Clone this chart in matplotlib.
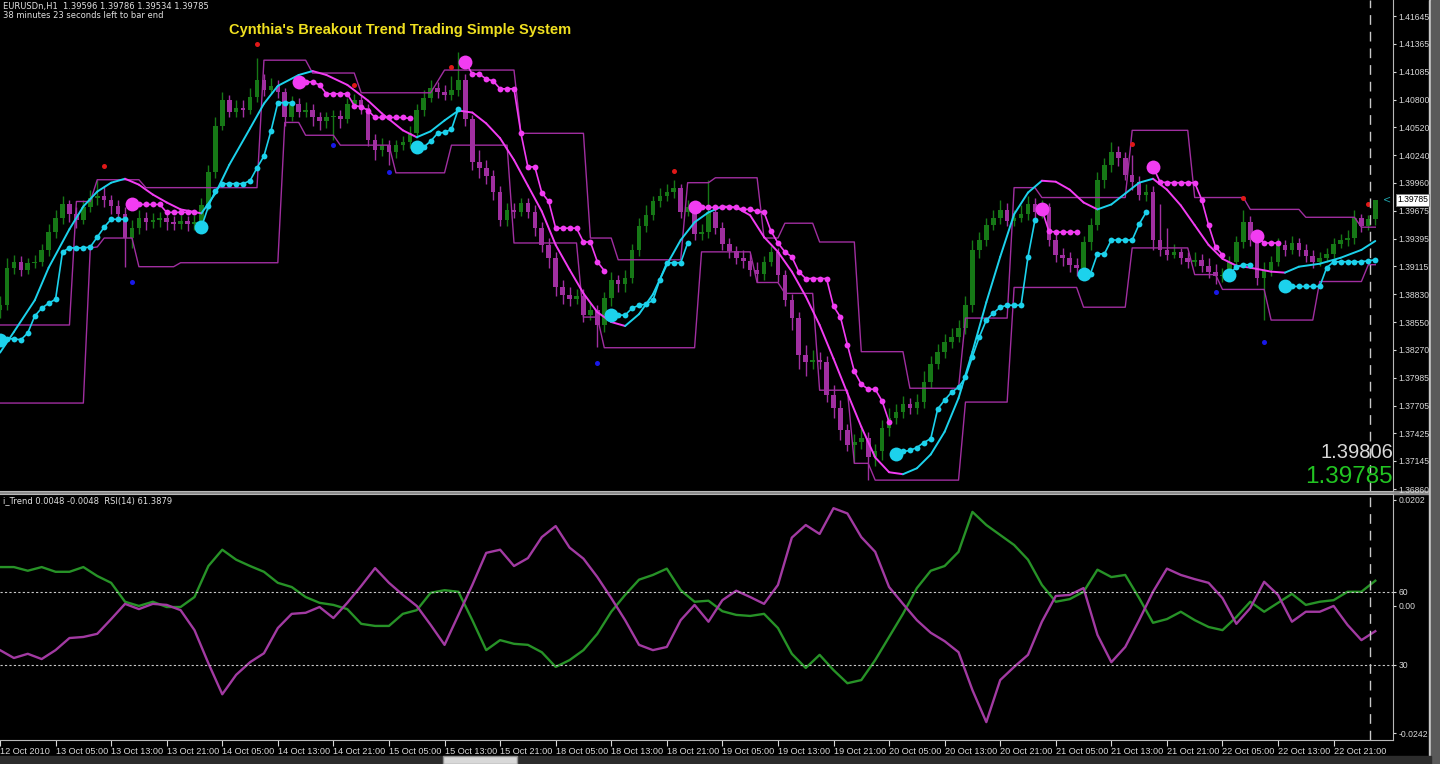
import numpy as np
import matplotlib.pyplot as plt
from matplotlib.patches import Rectangle
from matplotlib.transforms import blended_transform_factory

plt.rcParams['font.family'] = ['DejaVu Sans']

# ---- price data, EURUSD H1 (one entry per bar) ----
first_open = 1.3867
closes = [1.3872, 1.3910, 1.3916, 1.3908, 1.3915, 1.3916, 1.3928, 1.3946, 1.3960, 1.3974,
          1.3964, 1.3958, 1.3971, 1.3981, 1.3983, 1.3979, 1.3972, 1.3964, 1.3940, 1.3950,
          1.3960, 1.3956, 1.3958, 1.3960, 1.3956, 1.3954, 1.3957, 1.3954, 1.3956, 1.3973,
          1.4007, 1.4053, 1.4080, 1.4068, 1.4072, 1.4070, 1.4083, 1.4100, 1.4090, 1.4094,
          1.4088, 1.4062, 1.4076, 1.4068, 1.4070, 1.4062, 1.4058, 1.4062, 1.4064, 1.4060,
          1.4076, 1.4080, 1.4072, 1.4039, 1.4029, 1.4034, 1.4027, 1.4034, 1.4037, 1.4046,
          1.4070, 1.4082, 1.4092, 1.4088, 1.4085, 1.4090, 1.4100, 1.4060, 1.4017, 1.4011,
          1.4003, 1.3987, 1.3958, 1.3968, 1.3966, 1.3975, 1.3966, 1.3950, 1.3933, 1.3920,
          1.3890, 1.3882, 1.3878, 1.3881, 1.3862, 1.3867, 1.3852, 1.3879, 1.3898, 1.3893,
          1.3900, 1.3928, 1.3952, 1.3963, 1.3977, 1.3983, 1.3987, 1.3991, 1.3966, 1.3971,
          1.3944, 1.3946, 1.3966, 1.3950, 1.3934, 1.3927, 1.3920, 1.3917, 1.3908, 1.3904,
          1.3916, 1.3926, 1.3903, 1.3877, 1.3859, 1.3822, 1.3815, 1.3817, 1.3815, 1.3781,
          1.3768, 1.3746, 1.3731, 1.3734, 1.3738, 1.3718, 1.3724, 1.3748, 1.3758, 1.3764,
          1.3772, 1.3768, 1.3774, 1.3794, 1.3813, 1.3825, 1.3835, 1.3840, 1.3849, 1.3872,
          1.3928, 1.3938, 1.3953, 1.3960, 1.3968, 1.3957, 1.3960, 1.3964, 1.3974, 1.3966,
          1.3971, 1.3938, 1.3923, 1.3920, 1.3913, 1.3910, 1.3936, 1.3953, 1.3999, 1.4014,
          1.4027, 1.4021, 1.4004, 1.3997, 1.3984, 1.3987, 1.3938, 1.3928, 1.3923, 1.3926,
          1.3920, 1.3916, 1.3918, 1.3912, 1.3906, 1.3902, 1.3903, 1.3916, 1.3936, 1.3956,
          1.3938, 1.3900, 1.3908, 1.3916, 1.3933, 1.3928, 1.3935, 1.3928, 1.3922, 1.3916,
          1.3920, 1.3924, 1.3934, 1.3938, 1.3940, 1.3960, 1.3952, 1.39596, 1.39785]
highs = [1.3881, 1.3920, 1.3923, 1.3922, 1.3920, 1.3923, 1.3934, 1.3954, 1.3968, 1.3983,
         1.3979, 1.3971, 1.3979, 1.3989, 1.3999, 1.3993, 1.3984, 1.3979, 1.3971, 1.3958,
         1.3968, 1.3966, 1.3965, 1.3966, 1.3964, 1.3962, 1.3963, 1.3962, 1.3963, 1.3981,
         1.4014, 1.4062, 1.4088, 1.4085, 1.4080, 1.4080, 1.4092, 1.4122, 1.4106, 1.4102,
         1.4100, 1.4092, 1.4084, 1.4082, 1.4078, 1.4076, 1.4068, 1.4068, 1.4070, 1.4070,
         1.4082, 1.4086, 1.4084, 1.4076, 1.4045, 1.4041, 1.4039, 1.4039, 1.4043, 1.4053,
         1.4076, 1.4090, 1.4100, 1.4098, 1.4095, 1.4104, 1.4128, 1.4106, 1.4065, 1.4029,
         1.4019, 1.4009, 1.3993, 1.3975, 1.3975, 1.3981, 1.3981, 1.3973, 1.3956, 1.3940,
         1.3926, 1.3898, 1.3890, 1.3888, 1.3888, 1.3875, 1.3872, 1.3885, 1.3906, 1.3903,
         1.3908, 1.3934, 1.3960, 1.3973, 1.3983, 1.3991, 1.3995, 1.3999, 1.3995, 1.3979,
         1.3975, 1.3954, 1.3999, 1.3973, 1.3956, 1.3940, 1.3932, 1.3928, 1.3924, 1.3916,
         1.3922, 1.3932, 1.3930, 1.3908, 1.3883, 1.3865, 1.3832, 1.3827, 1.3825, 1.3821,
         1.3791, 1.3776, 1.3752, 1.3742, 1.3748, 1.3744, 1.3732, 1.3756, 1.3768, 1.3772,
         1.3780, 1.3778, 1.3782, 1.3805, 1.3821, 1.3833, 1.3843, 1.3849, 1.3857, 1.3881,
         1.3938, 1.3946, 1.3960, 1.3968, 1.3979, 1.3975, 1.3968, 1.3973, 1.3983, 1.3981,
         1.3979, 1.3975, 1.3944, 1.3930, 1.3926, 1.3920, 1.3942, 1.3960, 1.4007, 1.4021,
         1.4037, 1.4033, 1.4027, 1.4024, 1.4003, 1.3995, 1.3993, 1.3974, 1.3950, 1.3934,
         1.3930, 1.3926, 1.3926, 1.3924, 1.3920, 1.3914, 1.3910, 1.3922, 1.3942, 1.3968,
         1.3962, 1.3944, 1.3916, 1.3922, 1.3940, 1.3938, 1.3942, 1.3940, 1.3934, 1.3928,
         1.3926, 1.3930, 1.3940, 1.3944, 1.3948, 1.3968, 1.3964, 1.3963, 1.39786]
lows = [1.3859, 1.3867, 1.3904, 1.3902, 1.3904, 1.3910, 1.3912, 1.3922, 1.3940, 1.3954,
        1.3956, 1.3950, 1.3954, 1.3966, 1.3973, 1.3971, 1.3964, 1.3958, 1.3911, 1.3930,
        1.3944, 1.3948, 1.3950, 1.3951, 1.3948, 1.3948, 1.3949, 1.3947, 1.3948, 1.3951,
        1.3968, 1.4001, 1.4049, 1.4062, 1.4062, 1.4062, 1.4066, 1.4078, 1.4084, 1.4086,
        1.4082, 1.4053, 1.4058, 1.4062, 1.4062, 1.4053, 1.4049, 1.4051, 1.4039, 1.4051,
        1.4056, 1.4072, 1.4066, 1.4033, 1.4019, 1.4023, 1.4014, 1.4021, 1.4029, 1.4031,
        1.4041, 1.4064, 1.4078, 1.4082, 1.4080, 1.4080, 1.4084, 1.4053, 1.4009, 1.4001,
        1.3995, 1.3979, 1.3952, 1.3952, 1.3960, 1.3962, 1.3960, 1.3942, 1.3926, 1.3910,
        1.3881, 1.3873, 1.3871, 1.3873, 1.3855, 1.3857, 1.3830, 1.3845, 1.3871, 1.3885,
        1.3885, 1.3894, 1.3922, 1.3946, 1.3958, 1.3971, 1.3977, 1.3981, 1.3960, 1.3962,
        1.3938, 1.3938, 1.3940, 1.3944, 1.3928, 1.3920, 1.3914, 1.3910, 1.3902, 1.3896,
        1.3898, 1.3912, 1.3896, 1.3871, 1.3847, 1.3807, 1.3800, 1.3807, 1.3807, 1.3774,
        1.3758, 1.3736, 1.3724, 1.3712, 1.3726, 1.3695, 1.3709, 1.3715, 1.3740, 1.3752,
        1.3758, 1.3762, 1.3762, 1.3768, 1.3788, 1.3807, 1.3819, 1.3829, 1.3835, 1.3843,
        1.3865, 1.3920, 1.3932, 1.3948, 1.3954, 1.3952, 1.3952, 1.3956, 1.3958, 1.3960,
        1.3960, 1.3932, 1.3916, 1.3912, 1.3906, 1.3902, 1.3900, 1.3928, 1.3948, 1.3991,
        1.4007, 1.4013, 1.3999, 1.3989, 1.3979, 1.3977, 1.3928, 1.3922, 1.3918, 1.3920,
        1.3914, 1.3910, 1.3912, 1.3906, 1.3900, 1.3893, 1.3896, 1.3898, 1.3910, 1.3930,
        1.3932, 1.3892, 1.3857, 1.3902, 1.3912, 1.3922, 1.3924, 1.3922, 1.3916, 1.3910,
        1.3912, 1.3916, 1.3920, 1.3930, 1.3932, 1.3934, 1.3946, 1.3948, 1.39534]

# breakout channel (vertices: bar, price)
chan_up_bar = [0, 10, 11, 13, 14, 20, 21, 37, 38, 44, 45, 51, 52, 62, 64, 74, 75, 84, 85, 88,
               89, 98, 99, 102, 103, 109, 110, 112, 113, 117, 118, 123, 124, 130, 131, 138,
               139, 145, 146, 149, 150, 162, 163, 171, 172, 179, 180, 187, 188, 195, 196, 198]
chan_up_px = [1.3852, 1.3852, 1.3977, 1.3977, 1.3999, 1.3999, 1.3991, 1.3991, 1.4120, 1.4120,
              1.4107, 1.4107, 1.4087, 1.4087, 1.4110, 1.4110, 1.4046, 1.4046, 1.3940, 1.3940,
              1.3918, 1.3918, 1.3996, 1.3996, 1.4001, 1.4001, 1.3940, 1.3940, 1.3955, 1.3955,
              1.3936, 1.3936, 1.3825, 1.3825, 1.3788, 1.3788, 1.3859, 1.3859, 1.3991, 1.3991,
              1.3981, 1.3981, 1.4049, 1.4049, 1.3981, 1.3981, 1.3969, 1.3969, 1.3961, 1.3961,
              1.3951, 1.3951]
chan_dn_bar = [0, 12, 13, 14, 15, 19, 20, 25, 26, 40, 41, 43, 44, 48, 49, 56, 57, 64, 65, 73,
               74, 83, 84, 86, 87, 100, 101, 108, 109, 112, 113, 117, 118, 122, 123, 125, 126,
               138, 139, 145, 146, 155, 156, 162, 163, 171, 172, 175, 176, 182, 183, 189, 190,
               196, 197, 198]
chan_dn_px = [1.3773, 1.3773, 1.3930, 1.3931, 1.3940, 1.3940, 1.3911, 1.3911, 1.3915, 1.3915,
              1.4057, 1.4057, 1.4044, 1.4044, 1.4034, 1.4034, 1.4006, 1.4006, 1.4034, 1.4034,
              1.3935, 1.3935, 1.3860, 1.3860, 1.3829, 1.3829, 1.3926, 1.3926, 1.3895, 1.3895,
              1.3884, 1.3884, 1.3786, 1.3786, 1.3712, 1.3712, 1.3695, 1.3695, 1.3774, 1.3774,
              1.3890, 1.3890, 1.3870, 1.3870, 1.3930, 1.3930, 1.3903, 1.3903, 1.3888, 1.3888,
              1.3857, 1.3857, 1.3896, 1.3896, 1.3913, 1.3913]

# smoothed trend line
ma_bar = [0, 2, 5, 7, 10, 12, 14, 16, 18, 20, 22, 24, 26, 29, 31, 33, 36, 38, 40, 43, 45, 47,
          50, 53, 55, 58, 60, 62, 64, 66, 68, 70, 72, 74, 76, 78, 80, 82, 84, 86, 88, 90, 92,
          94, 96, 98, 100, 102, 104, 106, 108, 110, 112, 114, 116, 118, 120, 122, 124, 126,
          128, 130, 132, 134, 136, 138, 140, 142, 144, 146, 148, 150, 152, 154, 156, 158, 160,
          162, 164, 166, 168, 170, 172, 174, 176, 178, 180, 183, 185, 187, 190, 193, 196, 198]
ma_px = [1.3824, 1.3845, 1.3877, 1.3910, 1.3949, 1.3972, 1.3987, 1.3996, 1.4000, 1.3994,
         1.3984, 1.3976, 1.3969, 1.3965, 1.3985, 1.4014, 1.4051, 1.4076, 1.4094, 1.4105,
         1.4109, 1.4105, 1.4095, 1.4079, 1.4066, 1.4049, 1.4042, 1.4048, 1.4059, 1.4069,
         1.4067, 1.4056, 1.4041, 1.4019, 1.3993, 1.3967, 1.3933, 1.3908, 1.3884, 1.3865,
         1.3855, 1.3851, 1.3863, 1.3883, 1.3913, 1.3938, 1.3956, 1.3966, 1.3972, 1.3971,
         1.3963, 1.3941, 1.3926, 1.3906, 1.3881, 1.3852, 1.3818, 1.3783, 1.3749, 1.3718,
         1.3703, 1.3701, 1.3707, 1.3721, 1.3744, 1.3778, 1.3825, 1.3875, 1.3921, 1.3964,
         1.3986, 1.3998, 1.3997, 1.3989, 1.3976, 1.3969, 1.3974, 1.3985, 1.3996, 1.4000,
         1.3989, 1.3973, 1.3953, 1.3933, 1.3919, 1.3912, 1.3910, 1.3906, 1.3905, 1.3911,
         1.3914, 1.3920, 1.3928, 1.3937]

# trailing stops: first bar of each run and its values
up_stop_start = [0, 29, 60, 88, 129, 156, 177, 185]
up_stop_px = [
    [1.3837, 1.3838, 1.3838, 1.3837, 1.3844, 1.3861, 1.3869, 1.3874, 1.3878, 1.3926,
     1.3930, 1.3930, 1.3930, 1.3931, 1.3941, 1.3951, 1.3959, 1.3959, 1.3959],
    [1.3951, 1.3972, 1.3988, 1.3995, 1.3995, 1.3995, 1.3995, 1.3998, 1.4011, 1.4023,
     1.4048, 1.4077, 1.4077, 1.4077],
    [1.4032, 1.4032, 1.4038, 1.4046, 1.4047, 1.4050, 1.4071],
    [1.3862, 1.3862, 1.3862, 1.3869, 1.3872, 1.3873, 1.3877, 1.3898, 1.3915, 1.3915,
     1.3915, 1.3935],
    [1.3721, 1.3724, 1.3725, 1.3728, 1.3733, 1.3737, 1.3767, 1.3776, 1.3784, 1.3789,
     1.3799, 1.3820, 1.3840, 1.3857, 1.3864, 1.3870, 1.3872, 1.3872, 1.3872, 1.3921, 1.3958],
    [1.3904, 1.3904, 1.3924, 1.3924, 1.3938, 1.3938, 1.3938, 1.3938, 1.3954, 1.3966],
    [1.3903, 1.3911, 1.3913, 1.3913],
    [1.3891, 1.3891, 1.3891, 1.3891, 1.3891, 1.3891, 1.3910, 1.3916, 1.3916, 1.3916,
     1.3916, 1.3916, 1.3917, 1.3918],
]
dn_stop_start = [19, 43, 67, 100, 150, 166, 181]
dn_stop_px = [
    [1.3974, 1.3974, 1.3974, 1.3974, 1.3974, 1.3966, 1.3966, 1.3966, 1.3966, 1.3966],
    [1.4098, 1.4098, 1.4098, 1.4095, 1.4086, 1.4086, 1.4086, 1.4086, 1.4074, 1.4073,
     1.4069, 1.4062, 1.4062, 1.4062, 1.4062, 1.4062, 1.4061],
    [1.4118, 1.4106, 1.4106, 1.4101, 1.4099, 1.4091, 1.4091, 1.4091, 1.4046, 1.4012,
     1.4012, 1.3986, 1.3977, 1.3950, 1.3950, 1.3950, 1.3950, 1.3936, 1.3936, 1.3916, 1.3907],
    [1.3971, 1.3971, 1.3971, 1.3971, 1.3971, 1.3971, 1.3971, 1.3969, 1.3969, 1.3967,
     1.3966, 1.3947, 1.3935, 1.3926, 1.3921, 1.3906, 1.3899, 1.3899, 1.3899, 1.3899,
     1.3871, 1.3860, 1.3832, 1.3805, 1.3792, 1.3787, 1.3787, 1.3775, 1.3754],
    [1.3969, 1.3947, 1.3946, 1.3946, 1.3946, 1.3946],
    [1.4012, 1.3997, 1.3996, 1.3996, 1.3996, 1.3996, 1.3996, 1.3979, 1.3953, 1.3931, 1.3923],
    [1.3942, 1.3935, 1.3935, 1.3935],
]

# fractals
frac_up_bar = [15, 37, 51, 65, 97, 163, 179, 197]
frac_up_px = [1.4013, 1.4136, 1.4095, 1.4113, 1.4008, 1.4035, 1.3981, 1.3974]
frac_dn_bar = [19, 48, 56, 86, 175, 182]
frac_dn_px = [1.3896, 1.4034, 1.4007, 1.3814, 1.3885, 1.3835]

# i_Trend sub window, every second bar
osc_bar = list(range(0, 199, 2))
trend_bull = [0.0074, 0.0074, 0.0067, 0.0074, 0.0065, 0.0065, 0.0074, 0.0057, 0.0044, 0.0008,
              0.0000, 0.0008, -0.0002, -0.0002, 0.0017, 0.0076, 0.0107, 0.0088, 0.0076, 0.0065,
              0.0044, 0.0036, 0.0017, 0.0006, 0.0002, -0.0006, -0.0034, -0.0038, -0.0038, -0.0015,
              -0.0008, 0.0025, 0.0030, 0.0027, -0.0027, -0.0084, -0.0065, -0.0072, -0.0074, -0.0088,
              -0.0116, -0.0103, -0.0084, -0.0053, -0.0011, 0.0021, 0.0050, 0.0059, 0.0071, 0.0030,
              0.0008, 0.0010, -0.0010, -0.0017, -0.0019, -0.0015, -0.0042, -0.0091, -0.0118, -0.0093,
              -0.0122, -0.0147, -0.0141, -0.0103, -0.0059, -0.0015, 0.0034, 0.0067, 0.0076, 0.0103,
              0.0179, 0.0154, 0.0135, 0.0116, 0.0088, 0.0040, 0.0008, 0.0013, 0.0027, 0.0069,
              0.0055, 0.0059, 0.0015, -0.0032, -0.0025, -0.0011, -0.0027, -0.0040, -0.0046, -0.0021,
              0.0008, -0.0011, 0.0006, 0.0023, 0.0002, 0.0008, 0.0011, 0.0027, 0.0027, 0.0048]
trend_bear = [-0.0084, -0.0099, -0.0091, -0.0101, -0.0084, -0.0061, -0.0059, -0.0053, -0.0025, 0.0004,
              -0.0006, 0.0004, 0.0002, -0.0008, -0.0046, -0.0109, -0.0168, -0.0131, -0.0107, -0.0090,
              -0.0042, -0.0015, -0.0013, -0.0002, -0.0023, 0.0006, 0.0038, 0.0072, 0.0044, 0.0021,
              0.0000, -0.0036, -0.0074, -0.0017, 0.0040, 0.0101, 0.0107, 0.0076, 0.0091, 0.0131,
              0.0152, 0.0111, 0.0090, 0.0055, 0.0015, -0.0027, -0.0074, -0.0084, -0.0078, -0.0027,
              0.0002, -0.0030, 0.0011, 0.0029, 0.0017, 0.0004, 0.0040, 0.0130, 0.0154, 0.0137,
              0.0186, 0.0176, 0.0131, 0.0103, 0.0036, 0.0004, -0.0027, -0.0051, -0.0067, -0.0088,
              -0.0160, -0.0221, -0.0141, -0.0116, -0.0093, -0.0030, 0.0019, 0.0021, 0.0034, -0.0055,
              -0.0107, -0.0078, -0.0027, 0.0027, 0.0071, 0.0059, 0.0051, 0.0044, 0.0015, -0.0034,
              -0.0004, 0.0046, 0.0021, -0.0030, -0.0011, -0.0011, 0.0000, -0.0036, -0.0065, -0.0048]

price_ticks = [1.41645, 1.41365, 1.41085, 1.40800, 1.40520, 1.40240, 1.39960, 1.39675, 1.39395,
               1.39115, 1.38830, 1.38550, 1.38270, 1.37985, 1.37705, 1.37425, 1.37145, 1.36860]
time_tick_bar = list(range(0, 193, 8))
time_labels = ['12 Oct 2010', '13 Oct 05:00', '13 Oct 13:00', '13 Oct 21:00', '14 Oct 05:00',
               '14 Oct 13:00', '14 Oct 21:00', '15 Oct 05:00', '15 Oct 13:00', '15 Oct 21:00',
               '18 Oct 05:00', '18 Oct 13:00', '18 Oct 21:00', '19 Oct 05:00', '19 Oct 13:00',
               '19 Oct 21:00', '20 Oct 05:00', '20 Oct 13:00', '20 Oct 21:00', '21 Oct 05:00',
               '21 Oct 13:00', '21 Oct 21:00', '22 Oct 05:00', '22 Oct 13:00', '22 Oct 21:00']
bid, ask = 1.39785, 1.39806
shift_bar = 197.2

GREEN = '#167816'
PURPLE = '#a02fa0'
CHAN = '#a02ea0'
CYAN = '#1cd2ec'
MAGENTA = '#f23cf2'
AXC = '#d8d8d8'
SMALL = ['Liberation Sans Narrow', 'Liberation Sans', 'DejaVu Sans']
AXFONT = ['Liberation Sans', 'DejaVu Sans']

W, H = 1440, 764
fig = plt.figure(figsize=(W / 100, H / 100), dpi=100, facecolor='black')


def box(x0, y0, x1, y1):
    # pixel box (top-left origin) -> figure fraction rect
    return [x0 / W, 1 - y1 / H, (x1 - x0) / W, (y1 - y0) / H]


ax = fig.add_axes(box(0, 0, 1393, 491), facecolor='black')
ax2 = fig.add_axes(box(0, 494, 1393, 740), facecolor='black')

# ---- main window ----
bars = np.arange(len(closes))
c = np.array(closes)
o = np.array([first_open] + closes[:-1])
hi = np.array(highs)
lo = np.array(lows)
up = c >= o
cols = np.where(up, GREEN, PURPLE)
ax.vlines(bars, lo, hi, colors=cols, lw=1)
ax.bar(bars, np.maximum(np.abs(c - o), 0.00004), bottom=np.minimum(o, c), width=0.66,
       color=cols, linewidth=0)

ax.plot(chan_up_bar, chan_up_px, color=CHAN, lw=1)
ax.plot(chan_dn_bar, chan_dn_px, color=CHAN, lw=1)

for k in range(len(ma_bar) - 1):
    col = CYAN if ma_px[k + 1] > ma_px[k] else MAGENTA
    ax.plot(ma_bar[k:k + 2], ma_px[k:k + 2], color=col, lw=1.4, solid_capstyle='round')

for starts, runs, col in [(up_stop_start, up_stop_px, CYAN), (dn_stop_start, dn_stop_px, MAGENTA)]:
    for s, vals in zip(starts, runs):
        xs = np.arange(s, s + len(vals))
        ax.plot(xs, vals, color=col, lw=1.2)
        ax.plot(xs[1:], vals[1:], 'o', color=col, ms=4.2, mew=0)
        ax.plot(xs[0], vals[0], 'o', color=col, ms=10, mew=0)

ax.plot(frac_up_bar, frac_up_px, 'o', color='#e01818', ms=3.6, mew=0)
ax.plot(frac_dn_bar, frac_dn_px, 'o', color='#1818e8', ms=3.6, mew=0)

ax.set_xlim(0, 200.55)
ax.set_ylim(1.36840, 1.41809)
ax.yaxis.tick_right()
ax.set_yticks(price_ticks)
ax.set_yticklabels(['%.5f' % v for v in price_ticks], family=AXFONT)
ax.tick_params(axis='y', colors=AXC, labelsize=6.2, length=2.5, pad=1.5, width=0.8)
ax.set_xticks([])
for sp in ['top', 'left']:
    ax.spines[sp].set_visible(False)
for sp in ['right', 'bottom']:
    ax.spines[sp].set_color('#b8b8b8')

ax.axvline(shift_bar, color='#c8c8c8', lw=1, ls=(0, (7, 5)))
tr = blended_transform_factory(ax.transAxes, ax.transData)
ax.text(1.003, bid, '%.5f' % bid, transform=tr, fontsize=6.2, family=AXFONT, color='black',
        va='center', ha='left',
        bbox=dict(boxstyle='square,pad=0.15', fc='white', ec='#808080', lw=0.6))
ax.text(0.9985, bid, '<', transform=tr, fontsize=7, color='#1fa0a8', va='center', ha='right')

# ---- i_Trend / RSI window ----
ax2.plot(osc_bar, trend_bull, color='#279227', lw=1.7)
ax2.plot(osc_bar, trend_bear, color='#a23aa2', lw=1.7)
ax2.set_xlim(0, 200.55)
ax2.set_ylim(-0.0255, 0.0213)
ax2.set_xticks(time_tick_bar)
ax2.set_xticklabels(time_labels, family=SMALL)
ax2.tick_params(axis='x', colors=AXC, labelsize=6.6, length=4, pad=1, width=0.8)
for lbl in ax2.get_xticklabels():
    lbl.set_ha('left')
ax2.spines['left'].set_visible(False)
for sp in ['right', 'bottom', 'top']:
    ax2.spines[sp].set_color('#b8b8b8')
ax2.axvline(shift_bar, color='#c8c8c8', lw=1, ls=(0, (7, 5)))

axr = ax2.twinx()
axr.set_ylim(-1.2, 100.5)
axr.set_yticks([60, 30])
axr.set_yticklabels(['60', '30'], family=AXFONT)
axr.tick_params(axis='y', colors=AXC, labelsize=6.2, length=2.5, pad=1.5, width=0.8)
for sp in axr.spines.values():
    sp.set_visible(False)
for lvl in [60, 30]:
    axr.axhline(lvl, color='#c8c8c8', lw=0.8, ls=(0, (2, 2)))

# twinx moves the original ticks to the left, so put them back on the right
ax2.yaxis.tick_right()
ax2.set_yticks([0.0202, 0.0, -0.0242])
ax2.set_yticklabels(['0.0202', '0.00', '-0.0242'], family=AXFONT)
ax2.tick_params(axis='y', colors=AXC, labelsize=6.2, length=2.5, pad=1.5, width=0.8)

# ---- texts ----
fig.text(3 / W, 1 - 6 / H, 'EURUSDn,H1  1.39596 1.39786 1.39534 1.39785', fontsize=6,
         color='#e0e0e0', va='center')
fig.text(3 / W, 1 - 16 / H, '38 minutes 23 seconds left to bar end', fontsize=6,
         color='#e0e0e0', va='center')
fig.text(400 / W, 1 - 30 / H, "Cynthia's Breakout Trend Trading Simple System",
         family='Liberation Sans', fontsize=10.5, weight='bold', color='#f0e020',
         ha='center', va='center')
fig.text(3 / W, 1 - 501 / H, 'i_Trend 0.0048 -0.0048  RSI(14) 61.3879', fontsize=6,
         color='#e0e0e0', va='center')
fig.text(1393 / W, 1 - 453 / H, '%.5f' % ask, family='Liberation Sans', fontsize=14.5,
         color='#d8d8d8', ha='right', va='center')
fig.text(1393 / W, 1 - 477 / H, '%.5f' % bid, family='Liberation Sans', fontsize=17.5,
         color='#22c422', ha='right', va='center')

# window frame and separators (behind the axes so no label gets covered)
for rect in [Rectangle((0, 1 - 494 / H), 1431 / W, 3 / H, color='#8a8a8a'),
             Rectangle((1429 / W, 0), 2 / W, 1, color='#c8c8c8'),
             Rectangle((1431 / W, 0), 9 / W, 1, color='#5a5a5a'),
             Rectangle((0, 0), 1431 / W, 8 / H, color='#2c2c2c'),
             Rectangle((443 / W, 0), 74 / W, 8 / H, fc='#d8d8d8', ec='#909090')]:
    rect.set_transform(fig.transFigure)
    rect.set_zorder(-1)
    fig.patches.append(rect)

fig.savefig('out.png', dpi=100, facecolor='black')
